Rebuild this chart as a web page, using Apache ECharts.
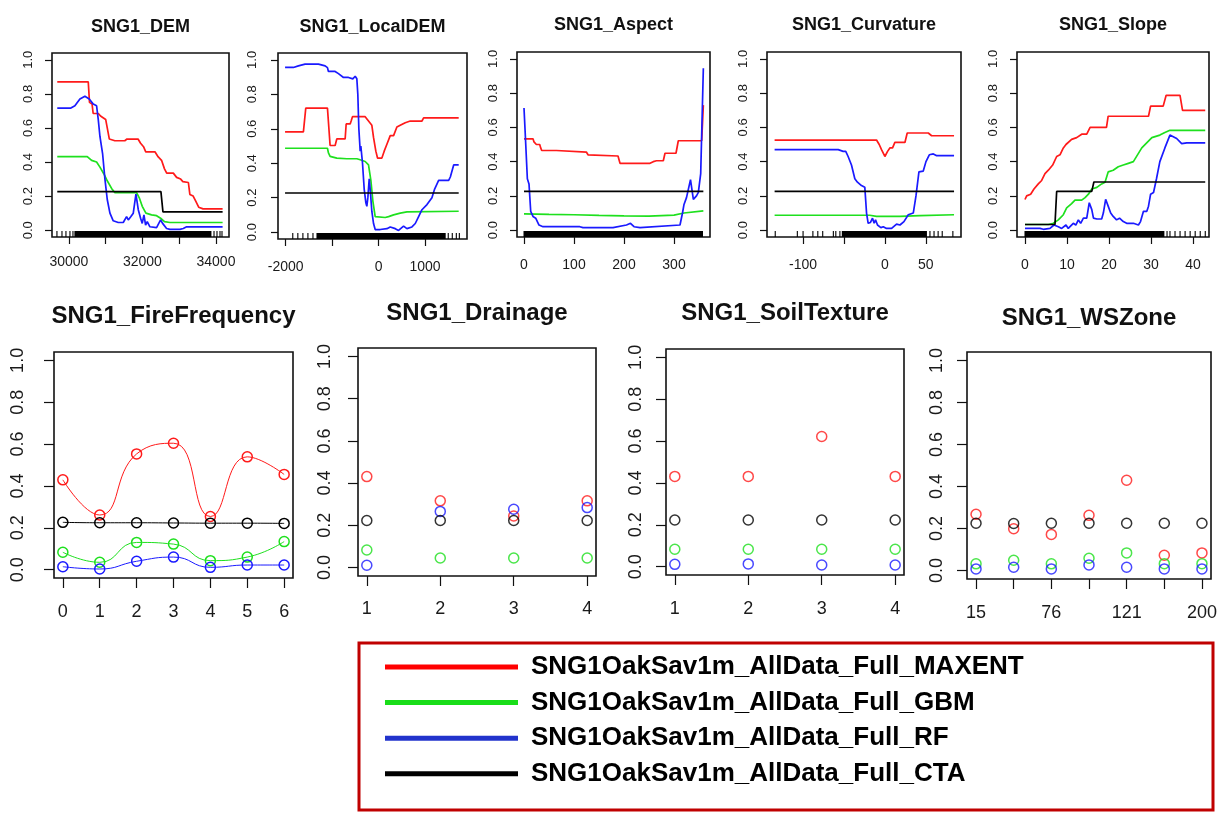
<!DOCTYPE html>
<html><head><meta charset="utf-8">
<script src="https://cdn.jsdelivr.net/npm/echarts@6/dist/echarts.min.js"></script>
<style>html,body{margin:0;padding:0;background:#fff}#c{width:1225px;height:814px}</style>
</head><body><div id="c"></div>
<script>
// ---------------- DATA ----------------
const MODELS = ['SNG1OakSav1m_AllData_Full_MAXENT','SNG1OakSav1m_AllData_Full_GBM','SNG1OakSav1m_AllData_Full_RF','SNG1OakSav1m_AllData_Full_CTA'];
const TITLES = ['SNG1_DEM','SNG1_LocalDEM','SNG1_Aspect','SNG1_Curvature','SNG1_Slope','SNG1_FireFrequency','SNG1_Drainage','SNG1_SoilTexture','SNG1_WSZone'];
const Y_TICKS = [0, 0.2, 0.4, 0.6, 0.8, 1.0];

// DEM
const DEM_X_TICKS = [30000, 31000, 32000, 33000, 34000];
const DEM_X_LABELS = [30000, 32000, 34000];
const DEM_MAXENT = [[29683,0.871],[30526,0.871],[30560,0.75],[30630,0.74],[30660,0.685],[30800,0.685],[30860,0.67],[31000,0.65],[31100,0.535],[31250,0.525],[31520,0.525],[31580,0.535],[31880,0.535],[31950,0.51],[32030,0.49],[32090,0.46],[32340,0.46],[32430,0.43],[32520,0.41],[32600,0.36],[32660,0.335],[32840,0.335],[32930,0.31],[33040,0.30],[33100,0.285],[33250,0.28],[33290,0.21],[33380,0.20],[33450,0.17],[33530,0.135],[33650,0.125],[34181,0.125]];
const DEM_GBM = [[29683,0.432],[30499,0.432],[30617,0.41],[30753,0.40],[30844,0.37],[30952,0.33],[31043,0.29],[31161,0.245],[31252,0.22],[31841,0.22],[31914,0.19],[31995,0.14],[32095,0.10],[32249,0.09],[32385,0.085],[32494,0.07],[32600,0.05],[32748,0.045],[34181,0.045]];
const DEM_RF = [[29683,0.717],[30054,0.717],[30163,0.73],[30299,0.77],[30435,0.786],[30553,0.77],[30662,0.74],[30753,0.73],[30798,0.65],[30844,0.55],[30916,0.45],[30980,0.30],[31043,0.18],[31116,0.10],[31206,0.055],[31342,0.045],[31478,0.045],[31569,0.08],[31615,0.06],[31687,0.08],[31751,0.10],[31823,0.212],[31887,0.12],[31950,0.07],[31995,0.04],[32041,0.09],[32086,0.03],[32131,0.05],[32204,0.02],[32385,0.015],[32494,0.06],[32549,0.04],[32657,0.01],[32748,0.005],[33020,0.005],[33111,0.01],[33202,0.02],[34181,0.02]];
const DEM_CTA = [[29683,0.226],[32503,0.226],[32558,0.107],[34181,0.107]];
const DEM_RUG = [[29673,29673],[29810,29810],[29918,29918],[30027,30027],[30109,30109],[30163,33891],[33946,33946],[34027,34027],[34109,34109],[34163,34163]];

// LocalDEM
const LDEM_X_TICKS = [-2000, -1000, 0, 1000];
const LDEM_X_LABELS = [-2000, 0, 1000];
const LDEM_MAXENT = [[-2013,0.582],[-1618,0.582],[-1567,0.72],[-1100,0.72],[-1043,0.503],[-935,0.503],[-899,0.541],[-719,0.541],[-697,0.628],[-611,0.628],[-590,0.645],[-561,0.67],[-288,0.67],[-216,0.645],[-144,0.62],[-108,0.55],[-58,0.47],[-22,0.43],[72,0.43],[122,0.47],[180,0.51],[252,0.56],[324,0.56],[395,0.61],[467,0.62],[575,0.635],[683,0.645],[935,0.645],[971,0.663],[1726,0.663]];
const LDEM_GBM = [[-2013,0.487],[-1100,0.487],[-1079,0.46],[-1043,0.44],[-899,0.43],[-683,0.426],[-467,0.426],[-395,0.42],[-288,0.41],[-216,0.39],[-165,0.30],[-122,0.18],[-72,0.09],[-36,0.085],[144,0.085],[216,0.09],[324,0.10],[467,0.11],[611,0.117],[1726,0.121]];
const LDEM_RF = [[-2013,0.956],[-1833,0.956],[-1726,0.965],[-1582,0.975],[-1294,0.975],[-1150,0.965],[-1100,0.955],[-1079,0.933],[-935,0.933],[-863,0.92],[-755,0.898],[-647,0.898],[-611,0.89],[-554,0.89],[-503,0.905],[-467,0.89],[-446,0.80],[-424,0.60],[-395,0.47],[-381,0.50],[-345,0.40],[-309,0.25],[-273,0.17],[-252,0.15],[-230,0.20],[-201,0.31],[-180,0.25],[-144,0.12],[-108,0.05],[-72,0.015],[36,0.015],[180,0.02],[252,0.03],[360,0.02],[431,0.01],[539,0.035],[611,0.02],[719,0.03],[791,0.05],[863,0.09],[935,0.13],[1043,0.16],[1150,0.20],[1208,0.25],[1294,0.30],[1510,0.30],[1546,0.32],[1618,0.39],[1726,0.39]];
const LDEM_CTA = [[-2013,0.227],[1726,0.227]];
const LDEM_RUG = [[-1848,-1848],[-1739,-1739],[-1630,-1630],[-1522,-1522],[-1413,-1413],[-1326,1457],[1500,1500],[1587,1587],[1674,1674],[1739,1739]];

// Aspect
const ASP_X_TICKS = [0, 100, 200, 300];
const ASP_X_LABELS = [0, 100, 200, 300];
const ASP_MAXENT = [[0,0.533],[18,0.533],[20,0.515],[24.7,0.50],[31.4,0.50],[33.4,0.48],[35.4,0.465],[64.8,0.465],[68,0.455],[125,0.455],[128,0.44],[131.6,0.433],[188,0.433],[192,0.39],[252,0.39],[258.5,0.40],[265,0.405],[278.6,0.405],[282,0.449],[304,0.449],[308.6,0.522],[355.4,0.522],[358.7,0.73]];
const ASP_GBM = [[0,0.095],[50,0.092],[100,0.09],[150,0.086],[200,0.083],[250,0.082],[300,0.088],[320,0.10],[358.7,0.112]];
const ASP_RF = [[0,0.713],[2.7,0.55],[6.7,0.30],[10,0.27],[13.4,0.11],[18,0.08],[23.4,0.07],[30,0.03],[38,0.02],[111.6,0.02],[118,0.015],[178,0.015],[205,0.03],[213,0.04],[220,0.02],[232,0.015],[312,0.03],[317,0.10],[320,0.15],[325,0.19],[328.6,0.18],[333,0.295],[338.7,0.18],[345,0.20],[348.7,0.22],[353.4,0.33],[358.7,0.945]];
const ASP_CTA = [[0,0.226],[358.7,0.226]];
const ASP_RUG = [[0,359]];

// Curvature
const CURV_X_TICKS = [-100, -50, 0, 50];
const CURV_X_LABELS = [-100, 0, 50];
const CURV_MAXENT = [[-134.7,0.526],[-10.2,0.526],[-6.9,0.50],[-4.1,0.47],[0,0.43],[3.3,0.46],[6.1,0.48],[9.4,0.48],[12.2,0.512],[24.5,0.512],[27.3,0.567],[53,0.567],[57.1,0.551],[84.5,0.551]];
const CURV_GBM = [[-134.7,0.087],[-18.4,0.087],[-10.2,0.08],[18.4,0.08],[42.9,0.085],[84.5,0.09]];
const CURV_RF = [[-134.7,0.47],[-57,0.47],[-55,0.465],[-51,0.46],[-47.8,0.46],[-44.9,0.43],[-40.8,0.38],[-36.7,0.30],[-33.5,0.28],[-28.6,0.26],[-24.5,0.25],[-22.4,0.10],[-20.4,0.04],[-17.6,0.045],[-15.1,0.07],[-13.1,0.04],[-11.4,0.06],[-9,0.03],[-6.9,0.04],[-4.9,0.015],[-2,0.02],[2,0.01],[8.2,0.01],[10.2,0.02],[14.3,0.035],[18.4,0.03],[23.3,0.05],[28.6,0.09],[34.7,0.10],[38,0.20],[41.6,0.34],[46.9,0.345],[50.2,0.40],[54.3,0.44],[59.2,0.445],[63.3,0.435],[84.5,0.435]];
const CURV_CTA = [[-134.7,0.226],[84.5,0.226]];
const CURV_RUG = [[-134,-134],[-107,-107],[-100,-100],[-88,-88],[-82,-82],[-76,-76],[-63,-63],[-60,-60],[-55,-55],[-52,52],[55,55],[60,60],[65,65],[70,70],[83,83]];

// Slope
const SLOPE_X_TICKS = [0, 10, 20, 30, 40];
const SLOPE_X_LABELS = [0, 10, 20, 30, 40];
const SLOPE_MAXENT = [[0,0.179],[0.4,0.20],[1.35,0.21],[2.14,0.24],[3.17,0.27],[3.97,0.29],[4.76,0.33],[5.56,0.35],[6.59,0.38],[7.54,0.43],[8.33,0.44],[9.13,0.48],[9.76,0.50],[11.1,0.53],[12.3,0.54],[13.5,0.56],[14.7,0.56],[15.5,0.60],[19.4,0.60],[19.8,0.665],[29.4,0.665],[29.9,0.724],[32.9,0.724],[33.6,0.787],[36.9,0.787],[37.5,0.699],[42.9,0.699]];
const SLOPE_GBM = [[0,0.033],[5.56,0.033],[6.75,0.04],[7.94,0.06],[9.13,0.09],[9.92,0.13],[11.1,0.155],[11.9,0.175],[13.5,0.175],[14.3,0.19],[15.1,0.21],[15.9,0.24],[17.1,0.25],[18.25,0.27],[19.05,0.28],[19.8,0.34],[21.0,0.35],[22.2,0.37],[23.4,0.38],[24.6,0.39],[25.8,0.40],[27.8,0.48],[30.2,0.54],[32.1,0.555],[33.3,0.57],[34.5,0.583],[42.9,0.583]];
const SLOPE_RF = [[0,0.01],[3.57,0.01],[4.37,0.005],[5.95,0.01],[6.9,0.03],[7.3,0.04],[7.94,0.02],[8.73,0.01],[9.76,0.03],[10.3,0.01],[11.5,0.04],[12.1,0.03],[12.7,0.06],[13.25,0.04],[13.9,0.07],[14.7,0.07],[15.3,0.16],[15.9,0.12],[16.3,0.07],[17.1,0.065],[18.25,0.065],[18.65,0.10],[19.2,0.18],[19.8,0.14],[20.4,0.10],[21.0,0.08],[21.8,0.06],[22.5,0.07],[23.4,0.05],[24.2,0.04],[25.8,0.04],[27.0,0.03],[27.5,0.05],[28.2,0.11],[29.0,0.11],[29.4,0.14],[29.9,0.21],[30.6,0.22],[31.3,0.30],[32.1,0.40],[33.3,0.48],[34.5,0.555],[34.9,0.555],[36.1,0.535],[37.3,0.505],[38.5,0.51],[42.9,0.51]];
const SLOPE_CTA = [[0,0.033],[7.14,0.033],[7.54,0.226],[15.9,0.226],[16.4,0.281],[42.9,0.281]];
const SLOPE_RUG = [[0,33.3],[33.8,33.8],[34.5,34.5],[35.7,35.7],[36.9,36.9],[38.1,38.1],[39.3,39.3],[40.5,40.5],[41.7,41.7],[42.9,42.9]];

// FireFrequency (x = 0..6)
const FIRE_X = [0, 1, 2, 3, 4, 5, 6];
const FIRE_MAXENT = [0.429, 0.261, 0.553, 0.604, 0.254, 0.539, 0.455];
const FIRE_GBM = [0.083, 0.035, 0.130, 0.122, 0.043, 0.060, 0.134];
const FIRE_RF = [0.014, 0.003, 0.040, 0.060, 0.011, 0.022, 0.022];
const FIRE_CTA = [0.226, 0.224, 0.224, 0.223, 0.222, 0.222, 0.221];

// Drainage (x = 1..4)
const DRAIN_X = [1, 2, 3, 4];
const DRAIN_MAXENT = [0.431, 0.316, 0.244, 0.316];
const DRAIN_GBM = [0.083, 0.045, 0.045, 0.045];
const DRAIN_RF = [0.011, 0.266, 0.276, 0.284];
const DRAIN_CTA = [0.223, 0.223, 0.223, 0.223];

// SoilTexture (x = 1..4)
const SOIL_X = [1, 2, 3, 4];
const SOIL_MAXENT = [0.431, 0.431, 0.622, 0.431];
const SOIL_GBM = [0.083, 0.083, 0.083, 0.083];
const SOIL_RF = [0.011, 0.013, 0.008, 0.008];
const SOIL_CTA = [0.223, 0.223, 0.223, 0.223];

// WSZone (7 zones at positions 1..7; labels shown only where R printed them)
const WS_X = [1, 2, 3, 4, 5, 6, 7];
const WS_LABEL_POS = [1, 3, 5, 7];
const WS_LABELS = ['15', '76', '121', '200'];
const WS_MAXENT = [0.268, 0.199, 0.172, 0.263, 0.430, 0.073, 0.084];
const WS_GBM = [0.032, 0.049, 0.032, 0.059, 0.084, 0.033, 0.033];
const WS_RF = [0.008, 0.016, 0.008, 0.027, 0.016, 0.008, 0.008];
const WS_CTA = [0.225, 0.224, 0.225, 0.225, 0.225, 0.225, 0.225];

// ---------------- LAYOUT / STYLE ----------------
const COLORS = ['#ff1a1a', '#1ee01e', '#1a1aff', '#000000'];
const LEGEND_COLORS = ['#ff0000', '#19dd19', '#2233cc', '#000000'];
const FONT = "'Liberation Sans', Arial, sans-serif";

const PANELS = [
  {grid:[52,53,177,184], xr:[29540,34355], xt:DEM_X_TICKS, xl:DEM_X_LABELS, lines:[DEM_MAXENT,DEM_GBM,DEM_RF,DEM_CTA], rug:DEM_RUG, ty:18, xm:18, ym:17},
  {grid:[278,53,189,186], xr:[-2165,1905], xt:LDEM_X_TICKS, xl:LDEM_X_LABELS, lines:[LDEM_MAXENT,LDEM_GBM,LDEM_RF,LDEM_CTA], rug:LDEM_RUG, ty:18, xm:21, ym:19},
  {grid:[517,52,193,185], xr:[-14,372], xt:ASP_X_TICKS, xl:ASP_X_LABELS, lines:[ASP_MAXENT,ASP_GBM,ASP_RF,ASP_CTA], rug:ASP_RUG, ty:16, xm:21, ym:17},
  {grid:[767,52,194,185], xr:[-144,93], xt:CURV_X_TICKS, xl:CURV_X_LABELS, lines:[CURV_MAXENT,CURV_GBM,CURV_RF,CURV_CTA], rug:CURV_RUG, ty:16, xm:21, ym:17},
  {grid:[1017,52,192,185], xr:[-1.9,43.8], xt:SLOPE_X_TICKS, xl:SLOPE_X_LABELS, lines:[SLOPE_MAXENT,SLOPE_GBM,SLOPE_RF,SLOPE_CTA], rug:SLOPE_RUG, ty:16, xm:21, ym:17},
  {grid:[54,352,239,226], xr:[-0.24,6.24], xt:FIRE_X, xl:FIRE_X, pts:[FIRE_MAXENT,FIRE_GBM,FIRE_RF,FIRE_CTA], px:FIRE_X, smooth:true, ty:304, xm:25, ym:27},
  {grid:[358,348,238,228], xr:[0.88,4.12], xt:DRAIN_X, xl:DRAIN_X, pts:[DRAIN_MAXENT,DRAIN_GBM,DRAIN_RF,DRAIN_CTA], px:DRAIN_X, ty:301, xm:24, ym:24},
  {grid:[666,349,238,226], xr:[0.88,4.12], xt:SOIL_X, xl:SOIL_X, pts:[SOIL_MAXENT,SOIL_GBM,SOIL_RF,SOIL_CTA], px:SOIL_X, ty:301, xm:25, ym:21},
  {grid:[967,352,244,227], xr:[0.76,7.24], xt:WS_X, xl:WS_LABEL_POS, xfmt:(v)=>WS_LABELS[WS_LABEL_POS.indexOf(v)], pts:[WS_MAXENT,WS_GBM,WS_RF,WS_CTA], px:WS_X, ty:306, xm:25, ym:21}
];

// ---------------- BUILD OPTION ----------------
const grids = [], xAxes = [], yAxes = [], series = [], titles = [];
PANELS.forEach((p, i) => {
  const big = i >= 5;
  const fs = big ? 18 : 14;
  const tick = big ? 10 : 7;
  grids.push({left:p.grid[0], top:p.grid[1], width:p.grid[2], height:p.grid[3], show:true, borderColor:'#111', borderWidth:1.6, backgroundColor:'rgba(0,0,0,0)', containLabel:false});
  titles.push({text:TITLES[i], left:p.grid[0] + p.grid[2]/2, top:p.ty, textAlign:'center', padding:0,
    textStyle:{fontFamily:FONT, fontWeight:'bold', fontSize: big ? 24 : 18, color:'#111'}});
  xAxes.push({gridIndex:i, type:'value', min:p.xr[0], max:p.xr[1],
    axisLine:{show:false, onZero:false}, splitLine:{show:false},
    axisTick:{show:true, inside:false, length:tick, customValues:p.xt, lineStyle:{color:'#111', width:1.2}},
    axisLabel:{customValues:p.xl, margin:p.xm, fontSize:fs, color:'#1a1a1a', fontFamily:FONT,
      formatter: p.xfmt ? p.xfmt : (v)=>String(v)}});
  yAxes.push({gridIndex:i, type:'value', min:-0.04, max:1.04,
    axisLine:{show:false, onZero:false}, splitLine:{show:false},
    axisTick:{show:true, inside:false, length:tick, customValues:Y_TICKS, lineStyle:{color:'#111', width:1.2}},
    axisLabel:{customValues:Y_TICKS, rotate:90, margin:p.ym, fontSize: big ? 18 : 13, color:'#1a1a1a', fontFamily:FONT,
      formatter:(v)=>v.toFixed(1)}});
  if (p.lines) {
    p.lines.forEach((d, k) => {
      series.push({name:MODELS[k], type:'line', xAxisIndex:i, yAxisIndex:i, data:d, showSymbol:false, symbol:'none',
        itemStyle:{color:COLORS[k]}, lineStyle:{color:COLORS[k], width:1.7}, silent:true, z:2+k});
    });
    series.push({name:'rug', type:'custom', xAxisIndex:i, yAxisIndex:i, silent:true, z:1,
      data:p.rug.map(r=>[r[0], r[1], 0]), encode:{x:[0,1], y:2},
      renderItem:(params, api) => {
        const a = api.coord([api.value(0), -0.04]);
        const b = api.coord([api.value(1), -0.04]);
        const w = Math.max(1.1, b[0] - a[0]);
        return {type:'rect', shape:{x:a[0]-0.5, y:a[1]-6, width:w, height:6}, style:{fill:'#000'}};
      }});
  } else {
    p.pts.forEach((vals, k) => {
      const d = p.px.map((x, j) => [x, vals[j]]);
      const common = {name:MODELS[k], xAxisIndex:i, yAxisIndex:i, data:d, symbol:'circle', symbolSize:10,
        itemStyle:{color:'rgba(255,255,255,0)', borderColor:COLORS[k], borderWidth:1.5}, silent:true, z:2+k};
      if (p.smooth) {
        series.push(Object.assign({type:'line', smooth:true, showSymbol:true, lineStyle:{color:COLORS[k], width:1}}, common));
      } else {
        series.push(Object.assign({type:'scatter'}, common));
      }
    });
  }
});

const option = {
  backgroundColor:'#fff',
  animation:false,
  title:titles,
  grid:grids, xAxis:xAxes, yAxis:yAxes, series:series,
  legend:{
    orient:'vertical', left:385, top:652, padding:0, itemGap:5.6, itemWidth:133, itemHeight:5, icon:'rect',
    selectedMode:false,
    data:MODELS.map((m, k)=>({name:m, itemStyle:{color:LEGEND_COLORS[k], borderWidth:0}})),
    textStyle:{fontFamily:FONT, fontWeight:'bold', fontSize:26, color:'#000', lineHeight:30, padding:[0,0,0,8]}
  },
  graphic:[{type:'rect', shape:{x:359, y:643, width:854, height:167}, style:{fill:'none', stroke:'#c00000', lineWidth:3}, silent:true}]
};
const chart = echarts.init(document.getElementById('c'), null, {renderer:'canvas'});
chart.setOption(option);
</script></body></html>
